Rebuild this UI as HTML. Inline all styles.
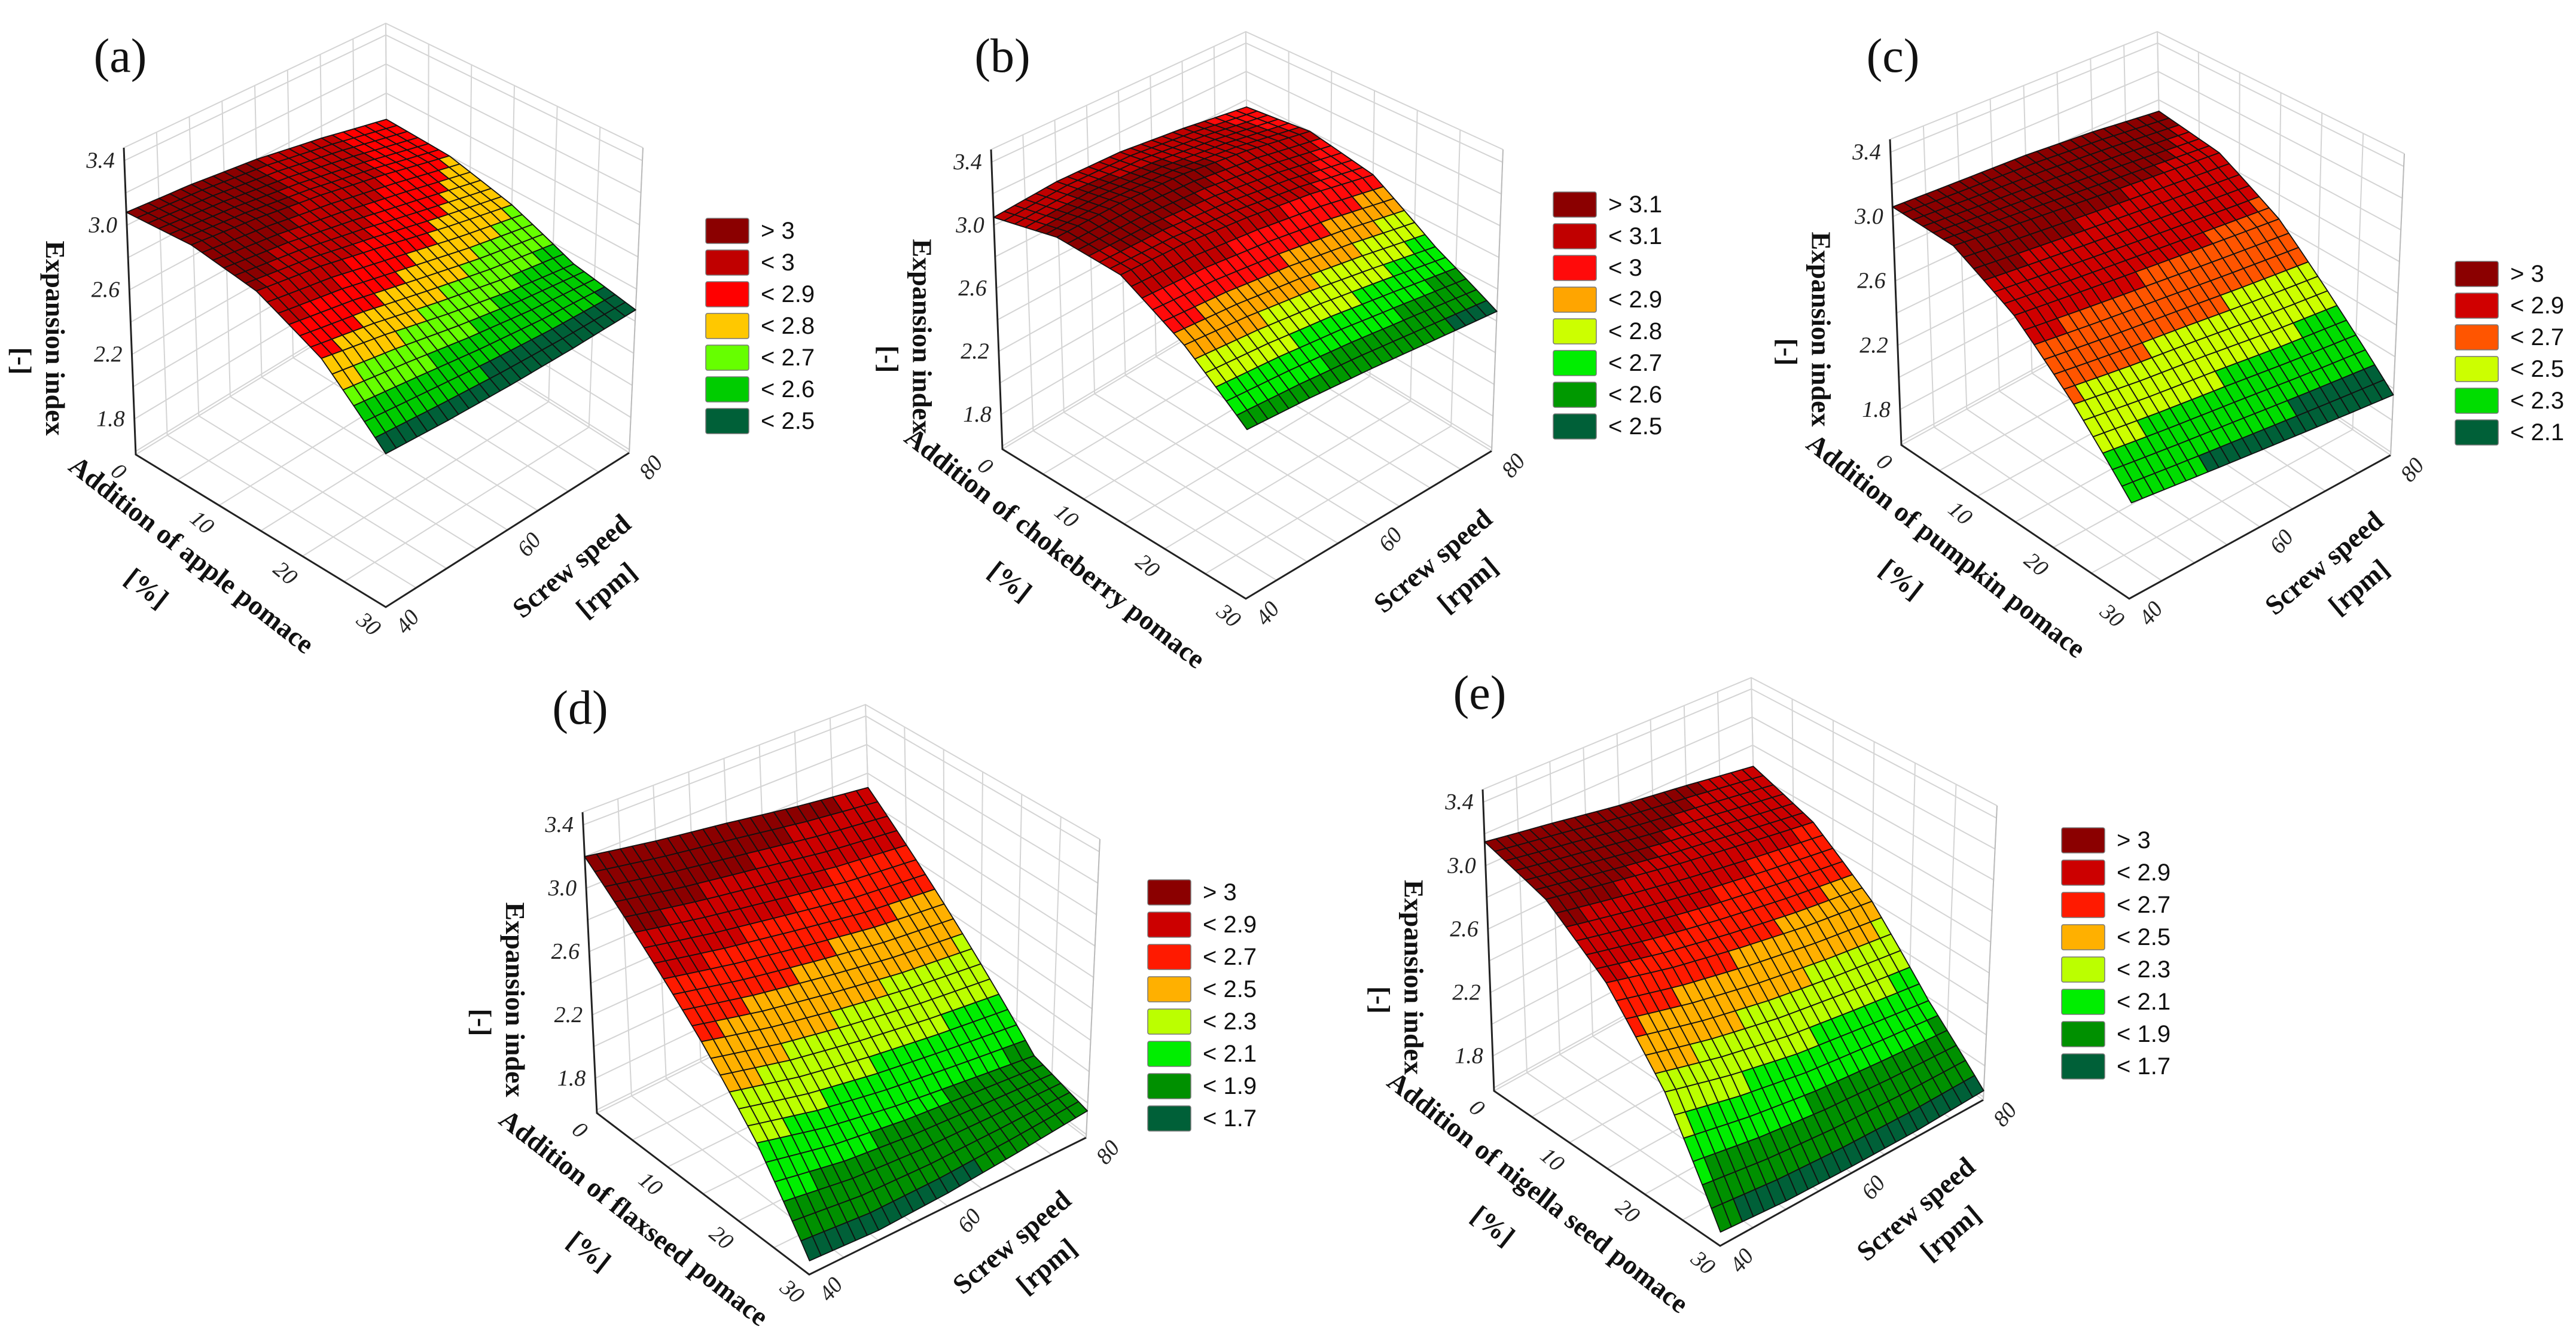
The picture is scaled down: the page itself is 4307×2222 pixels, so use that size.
<!DOCTYPE html>
<html><head><meta charset="utf-8">
<style>
html,body{margin:0;padding:0;background:#fff;}
svg{display:block;}
.tick{font-family:"Liberation Serif",serif;font-size:38px;font-style:italic;fill:#222;}
.ttl{font-family:"Liberation Serif",serif;font-size:46px;font-weight:bold;fill:#111;}
.lg{font-family:"Liberation Sans",sans-serif;font-size:40px;fill:#111;}
.pl{font-family:"Liberation Serif",serif;font-size:80px;fill:#111;}
</style></head>
<body>
<svg id="fig" xmlns="http://www.w3.org/2000/svg" width="4307" height="2222" viewBox="0 0 4307 2222"></svg>
<script>
// ---- data: rows = addition (0,7.5,15,22.5,30 %), cols = screw speed (40,50,60,70,80 rpm)
const additionTicks = [0, 10, 20, 30];
const speedTicks = [40, 60, 80];
const zTicks = [1.8, 2.2, 2.6, 3.0, 3.4];
const gridA = [[3.08,3.05,3.0,2.92,2.82],[3.08,3.04,2.98,2.9,2.8],[3.0,2.95,2.87,2.78,2.7],[2.8,2.74,2.66,2.59,2.54],[2.45,2.44,2.44,2.45,2.47]];
const gridB = [[3.05,3.08,3.07,3.02,2.95],[3.12,3.14,3.13,3.08,3.0],[3.08,3.08,3.05,3.0,2.92],[2.85,2.83,2.79,2.73,2.66],[2.55,2.54,2.52,2.49,2.46]];
const gridC = [[3.06,3.04,3.02,2.98,2.92],[3.02,2.98,2.94,2.9,2.86],[2.8,2.76,2.72,2.68,2.64],[2.48,2.43,2.39,2.34,2.3],[2.12,2.08,2.04,2.0,1.96]];
const gridD = [[3.2,3.12,3.05,2.97,2.9],[2.85,2.76,2.68,2.6,2.55],[2.5,2.4,2.32,2.25,2.2],[2.12,2.02,1.95,1.9,1.85],[1.66,1.64,1.66,1.7,1.75]];
const gridE = [[3.15,3.08,3.0,2.93,2.85],[3.0,2.92,2.84,2.77,2.7],[2.7,2.6,2.52,2.45,2.4],[2.26,2.16,2.08,2.03,1.98],[1.66,1.63,1.62,1.62,1.64]];
const levelsA = [3, 3, 2.9, 2.8, 2.7, 2.6, 2.5];
const labelsA = ["> 3","< 3","< 2.9","< 2.8","< 2.7","< 2.6","< 2.5"];
const levelsB = [3.1, 3.1, 3, 2.9, 2.8, 2.7, 2.6, 2.5];
const labelsB = ["> 3.1","< 3.1","< 3","< 2.9","< 2.8","< 2.7","< 2.6","< 2.5"];
const levelsC = [3, 2.9, 2.7, 2.5, 2.3, 2.1];
const labelsC = ["> 3","< 2.9","< 2.7","< 2.5","< 2.3","< 2.1"];
const levelsD = [3, 2.9, 2.7, 2.5, 2.3, 2.1, 1.9, 1.7];
const labelsD = ["> 3","< 2.9","< 2.7","< 2.5","< 2.3","< 2.1","< 1.9","< 1.7"];
const levelsE = [3, 2.9, 2.7, 2.5, 2.3, 2.1, 1.9, 1.7];
const labelsE = ["> 3","< 2.9","< 2.7","< 2.5","< 2.3","< 2.1","< 1.9","< 1.7"];

// ---- styles
const colorsA = ["#8B0000","#C00000","#FF0000","#FFC800","#66FF00","#00CC00","#006038"];
const colorsB = ["#8B0000","#C00000","#FF0A0A","#FFA500","#CCFF00","#00EE00","#009900","#006038"];
const colorsC = ["#8B0000","#D00000","#FF5500","#CCFF00","#00DD00","#006038"];
const colorsDE = ["#8B0000","#CC0000","#FF1A00","#FFB000","#BBFF00","#00EE00","#009000","#006038"];
const ZMIN = 1.58, ZMAX = 3.48;
const panels = [
 {id:"a", name:"apple", grid:gridA, levels:levelsA, labels:labelsA, colors:colorsA,
  fL:[227,760],fF:[645,1015],fR:[1052,757],fB:[648,501],tL:[207,247],tF:[645,455],tR:[1075,247],tB:[645,39],
  leg:[1180,365,53], plab:[201,120], xt:"Addition of apple pomace"},
 {id:"b", name:"chokeberry", grid:gridB, levels:levelsB, labels:labelsB, colors:colorsB,
  fL:[1676,751],fF:[2083,1001],fR:[2494,754],fB:[2087,504],tL:[1657,250],tF:[2087,447],tR:[2513,250],tB:[2083,53],
  leg:[2597,321,53], plab:[1676,120], xt:"Addition of chokeberry pomace"},
 {id:"c", name:"pumpkin", grid:gridC, levels:levelsC, labels:labelsC, colors:colorsC,
  fL:[3179,744],fF:[3560,1001],fR:[3997,761],fB:[3616,504],tL:[3160,233],tF:[3573,437],tR:[4020,257],tB:[3607,53],
  leg:[4105,437,53], plab:[3165,120], xt:"Addition of pumpkin pomace"},
 {id:"d", name:"flaxseed", grid:gridD, levels:levelsD, labels:labelsD, colors:colorsDE,
  fL:[998,1861],fF:[1353,2131],fR:[1816,1902],fB:[1461,1632],tL:[974,1358],tF:[1366,1583],tR:[1839,1403],tB:[1447,1178],
  leg:[1919,1471,54], plab:[970,1210], xt:"Addition of flaxseed pomace"},
 {id:"e", name:"nigella", grid:gridE, levels:levelsE, labels:labelsE, colors:colorsDE,
  fL:[2498,1824],fF:[2876,2083],fR:[3316,1839],fB:[2938,1580],tL:[2479,1320],tF:[2890,1534],tR:[3339,1347],tB:[2928,1133],
  leg:[3447,1384,54], plab:[2474,1185], xt:"Addition of nigella seed pomace"}
];
const NS = "http://www.w3.org/2000/svg";
const svg = document.getElementById("fig");
function mk(tag, attrs, parent){const e=document.createElementNS(NS,tag);for(const k in attrs)e.setAttribute(k,attrs[k]);(parent||svg).appendChild(e);return e;}
function lerp(a,b,t){return [a[0]+(b[0]-a[0])*t,a[1]+(b[1]-a[1])*t];}
function proj(p,a,s,z){
  const u=a/30, v=(s-40)/40, w=(z-ZMIN)/(ZMAX-ZMIN);
  const fl=lerp(lerp(p.fL,p.fF,u),lerp(p.fB,p.fR,u),v);
  const tp=lerp(lerp(p.tL,p.tF,u),lerp(p.tB,p.tR,u),v);
  return lerp(fl,tp,w);
}
function val(g,a,s){
  const x=a/7.5, y=(s-40)/10;
  const i=Math.min(3,Math.floor(x)), j=Math.min(3,Math.floor(y));
  const fx=x-i, fy=y-j;
  return g[i][j]*(1-fx)*(1-fy)+g[i+1][j]*fx*(1-fy)+g[i][j+1]*(1-fx)*fy+g[i+1][j+1]*fx*fy;
}
function colorFor(p,z){
  if(z>p.levels[0]) return p.colors[0];
  let idx=0;
  for(let i=0;i<p.levels.length;i++){ if(z<p.levels[i]) idx=i; }
  return p.colors[idx];
}
function pts(arr){return arr.map(q=>q[0].toFixed(1)+","+q[1].toFixed(1)).join(" ");}

panels.forEach(p=>{
  const g=mk("g",{});
  
  
  const gg=mk("g",{stroke:"#d4d4d4","stroke-width":2,fill:"none"},g);
  
  
  for(let a=0;a<=30;a+=5){
    mk("polyline",{points:pts([proj(p,a,40,ZMIN),proj(p,a,80,ZMIN),proj(p,a,80,ZMAX)])},gg);
  }
  for(let s=40;s<=80;s+=5){
    mk("polyline",{points:pts([proj(p,30,s,ZMIN),proj(p,0,s,ZMIN),proj(p,0,s,ZMAX)])},gg);
  }
  for(let z=1.6;z<=3.45;z+=0.2){
    mk("polyline",{points:pts([proj(p,0,40,z),proj(p,0,80,z),proj(p,30,80,z)])},gg);
  }
  mk("polyline",{points:pts([proj(p,0,40,ZMAX),proj(p,0,80,ZMAX),proj(p,30,80,ZMAX)])},gg);
  const ax=mk("g",{stroke:"#222","stroke-width":3,fill:"none"},g);
  
  
  mk("polyline",{points:pts([proj(p,0,40,ZMAX),proj(p,0,40,ZMIN),proj(p,30,40,ZMIN),proj(p,30,80,ZMIN)])},ax);
  mk("polyline",{points:pts([proj(p,30,80,ZMIN),proj(p,30,80,ZMAX)]),stroke:"#bbb","stroke-width":2},ax);
  const sf=mk("g",{stroke:"#111","stroke-width":1.8,"stroke-linejoin":"round"},g);
  
  
  const N=24, cells=[];
  for(let i=0;i<N;i++)for(let j=0;j<N;j++){
    cells.push({a0:30*i/N,a1:30*(i+1)/N,s0:40+40*j/N,s1:40+40*(j+1)/N,o:(i-j)});
  }
  cells.sort((c,d)=>c.o-d.o);
  cells.forEach(c=>{
    const z00=val(p.grid,c.a0,c.s0),z10=val(p.grid,c.a1,c.s0),z11=val(p.grid,c.a1,c.s1),z01=val(p.grid,c.a0,c.s1);
    const zm=(z00+z10+z11+z01)/4;
    const poly=mk("polygon",{points:pts([proj(p,c.a0,c.s0,z00),proj(p,c.a1,c.s0,z10),proj(p,c.a1,c.s1,z11),proj(p,c.a0,c.s1,z01)]),fill:colorFor(p,zm)},sf);
    
    
  });
  zTicks.forEach(z=>{
    const q=proj(p,0,40,z);
    const t=mk("text",{x:q[0]-16,y:q[1]+12,"text-anchor":"end",class:"tick"},g);
    t.textContent=z.toFixed(1);
    
    
  });
  additionTicks.forEach(a=>{
    const q=proj(p,a,40,ZMIN);
    const t=mk("text",{x:q[0]-30,y:q[1]+40,"text-anchor":"middle",class:"tick",transform:`rotate(40 ${q[0]-30} ${q[1]+30})`},g);
    t.textContent=a;
    
    
  });
  speedTicks.forEach(s=>{
    const q=proj(p,30,s,ZMIN);
    const t=mk("text",{x:q[0]+38,y:q[1]+36,"text-anchor":"middle",class:"tick",transform:`rotate(-50 ${q[0]+38} ${q[1]+26})`},g);
    t.textContent=s;
    
    
  });
  const lm=[(p.fL[0]+p.tL[0])/2,(p.fL[1]+p.tL[1])/2];
  let t=mk("text",{x:lm[0]-140,y:lm[1]+62,"text-anchor":"middle",class:"ttl",transform:`rotate(90 ${lm[0]-140} ${lm[1]+62})`},g);
  t.textContent="Expansion index";
  
  
  t=mk("text",{x:lm[0]-196,y:lm[1]+100,"text-anchor":"middle",class:"ttl",transform:`rotate(90 ${lm[0]-196} ${lm[1]+100})`},g);
  t.textContent="[-]";
  
  
  const m1=[(p.fL[0]+p.fF[0])/2,(p.fL[1]+p.fF[1])/2];
  t=mk("text",{x:m1[0]-125,y:m1[1]+52,"text-anchor":"middle",class:"ttl",transform:`rotate(38 ${m1[0]-125} ${m1[1]+52})`},g);
  t.textContent=p.xt;
  
  
  t=mk("text",{x:m1[0]-200,y:m1[1]+108,"text-anchor":"middle",class:"ttl",transform:`rotate(38 ${m1[0]-200} ${m1[1]+108})`},g);
  t.textContent="[%]";
  
  
  const m2=[(p.fF[0]+p.fR[0])/2,(p.fF[1]+p.fR[1])/2];
  t=mk("text",{x:m2[0]+117,y:m2[1]+72,"text-anchor":"middle",class:"ttl",transform:`rotate(-40 ${m2[0]+117} ${m2[1]+72})`},g);
  t.textContent="Screw speed";
  
  
  t=mk("text",{x:m2[0]+175,y:m2[1]+112,"text-anchor":"middle",class:"ttl",transform:`rotate(-40 ${m2[0]+175} ${m2[1]+112})`},g);
  t.textContent="[rpm]";
  
  
  t=mk("text",{x:p.plab[0],y:p.plab[1],"text-anchor":"middle",class:"pl"},g);
  t.textContent="("+p.id+")";
  
  
  const lg=mk("g",{},g);
  
  
  p.labels.forEach((lab,k)=>{
    const y=p.leg[1]+k*p.leg[2];
    const r=mk("rect",{x:p.leg[0],y:y,width:72,height:42,fill:p.colors[k],stroke:"#777","stroke-width":1.5,rx:3},lg);
    
    
    const tx=mk("text",{x:p.leg[0]+92,y:y+34,class:"lg"},lg);
    tx.textContent=lab;
    
    
  });
});
</script>
</body></html>
